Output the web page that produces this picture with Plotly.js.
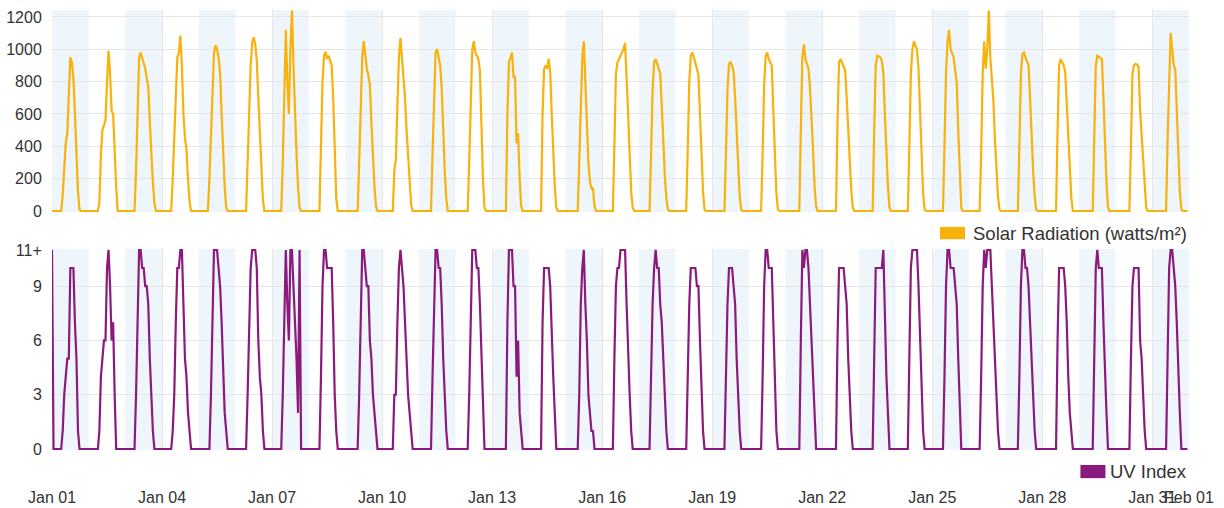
<!DOCTYPE html>
<html>
<head>
<meta charset="utf-8">
<script src="https://cdn.plot.ly/plotly-3.0.1.min.js"></script>
<style>
  html, body { margin: 0; padding: 0; background: #ffffff; }
  #chart { width: 1224px; height: 508px; }
</style>
</head>
<body>
<div id="chart"></div>
<script>
// ---- Data (hourly readings, one line per day, hours 00..23) ----
const startDate = '2024-01-01T00:00:00Z';

const solarRadiation = [
  0,0,0,0,0,0,0,100,280,420,480,700,950,920,820,600,380,120,10,0,0,0,0,0,        // Jan 01
  0,0,0,0,0,0,0,50,350,500,530,560,800,990,850,620,600,350,150,0,0,0,0,0,         // Jan 02
  0,0,0,0,0,0,0,250,700,950,980,950,920,880,820,770,550,350,180,50,0,0,0,0,       // Jan 03
  0,0,0,0,0,0,0,200,450,750,950,980,1085,900,600,450,380,200,60,0,0,0,0,0,        // Jan 04
  0,0,0,0,0,0,0,200,500,800,980,1025,1000,950,850,600,350,150,20,0,0,0,0,0,       // Jan 05
  0,0,0,0,0,0,0,0,300,650,900,1040,1075,1030,930,700,450,220,70,0,0,0,0,0,        // Jan 06
  0,0,0,0,0,0,0,300,700,1120,800,600,1000,1240,900,600,350,150,20,0,0,0,0,0,      // Jan 07
  0,0,0,0,0,0,0,0,400,800,960,985,940,960,930,900,700,350,80,0,0,0,0,0,           // Jan 08
  0,0,0,0,0,0,0,0,0,300,700,950,1050,950,880,840,780,550,330,150,30,0,0,0,        // Jan 09
  0,0,0,0,0,0,0,0,250,320,650,950,1070,950,880,700,500,320,150,40,0,0,0,0,        // Jan 10
  0,0,0,0,0,0,0,0,0,350,750,980,1000,940,900,760,480,250,80,0,0,0,0,0,            // Jan 11
  0,0,0,0,0,0,0,0,0,300,700,1000,1050,980,960,940,870,500,200,20,0,0,0,0,         // Jan 12
  0,0,0,0,0,0,0,0,0,0,600,920,950,980,830,830,420,480,200,30,0,0,0,0,             // Jan 13
  0,0,0,0,0,0,0,0,0,600,880,900,880,940,860,600,350,150,20,0,0,0,0,0,             // Jan 14
  0,0,0,0,0,0,0,0,0,300,700,950,1050,800,600,300,180,140,140,30,0,0,0,0,          // Jan 15
  0,0,0,0,0,0,0,0,400,850,920,940,960,980,1000,1040,850,600,350,120,20,0,0,0,     // Jan 16
  0,0,0,0,0,0,0,0,350,750,920,940,910,880,850,650,420,220,80,10,0,0,0,0,          // Jan 17
  0,0,0,0,0,0,0,0,380,800,960,980,950,920,880,840,600,330,120,10,0,0,0,0,         // Jan 18
  0,0,0,0,0,0,0,0,0,350,750,910,920,900,860,700,480,260,90,10,0,0,0,0,            // Jan 19
  0,0,0,0,0,0,0,0,0,350,780,960,980,940,920,900,620,330,110,10,0,0,0,0,           // Jan 20
  0,0,0,0,0,0,0,0,0,0,500,950,1030,940,910,880,760,600,380,150,30,0,0,0,          // Jan 21
  0,0,0,0,0,0,0,0,0,0,550,920,940,920,900,870,700,500,300,130,20,0,0,0,           // Jan 22
  0,0,0,0,0,0,0,0,0,0,500,900,960,955,950,930,850,600,350,150,20,0,0,0,           // Jan 23
  0,0,0,0,0,0,0,0,0,400,850,1000,1050,1020,1000,880,600,330,110,10,0,0,0,0,       // Jan 24
  0,0,0,0,0,0,0,0,400,850,1050,1120,1000,970,950,870,800,500,200,20,0,0,0,0,      // Jan 25
  0,0,0,0,0,0,0,0,350,850,1050,880,1000,1240,950,800,680,450,250,90,10,0,0,0,     // Jan 26
  0,0,0,0,0,0,0,0,0,400,850,970,980,950,920,900,700,450,250,90,10,0,0,0,          // Jan 27
  0,0,0,0,0,0,0,0,0,0,500,900,940,920,900,860,650,420,220,80,0,0,0,0,             // Jan 28
  0,0,0,0,0,0,0,0,0,0,450,900,960,955,950,940,700,420,180,20,0,0,0,0,             // Jan 29
  0,0,0,0,0,0,0,0,0,0,400,850,900,910,905,890,620,450,280,120,20,0,0,0,           // Jan 30
  0,0,0,0,0,0,0,0,0,0,450,850,1100,1000,900,880,650,350,120,10,0,0,0,0            // Jan 31
];

const uvIndex = [
  11,0,0,0,0,0,0,1,3,4,5,5,10,10,10,7,5,1,0,0,0,0,0,0,      // Jan 01
  0,0,0,0,0,0,0,1,4,5,6,6,10,11,9,6,7,3,0,0,0,0,0,0,        // Jan 02
  0,0,0,0,0,0,0,3,8,11,11,10,10,9,9,8,5,3,1,0,0,0,0,0,      // Jan 03
  0,0,0,0,0,0,0,1,3,7,10,10,11,11,8,5,4,2,1,0,0,0,0,0,      // Jan 04
  0,0,0,0,0,0,0,0,3,8,11,11,11,10,9,7,4,2,1,0,0,0,0,0,      // Jan 05
  0,0,0,0,0,0,0,0,3,7,10,11,11,11,10,6,4,3,1,0,0,0,0,0,     // Jan 06
  0,0,0,0,0,0,0,3,7,11,8,6,11,11,9,7,5,2,11,0,0,0,0,0,      // Jan 07
  0,0,0,0,0,0,0,0,4,9,11,11,10,10,10,10,7,3,1,0,0,0,0,0,    // Jan 08
  0,0,0,0,0,0,0,0,0,3,8,11,11,10,9,9,6,5,3,2,1,0,0,0,       // Jan 09
  0,0,0,0,0,0,0,0,3,3,7,10,11,10,9,7,5,3,2,1,0,0,0,0,       // Jan 10
  0,0,0,0,0,0,0,0,0,4,8,11,11,10,10,8,5,3,1,0,0,0,0,0,      // Jan 11
  0,0,0,0,0,0,0,0,0,3,8,11,11,11,10,10,8,5,2,0,0,0,0,0,     // Jan 12
  0,0,0,0,0,0,0,0,0,0,7,11,11,11,9,9,4,6,2,1,0,0,0,0,       // Jan 13
  0,0,0,0,0,0,0,0,0,7,10,10,10,10,9,6,4,2,0,0,0,0,0,0,      // Jan 14
  0,0,0,0,0,0,0,0,0,3,8,10,11,8,6,3,2,1,1,0,0,0,0,0,        // Jan 15
  0,0,0,0,0,0,0,0,5,9,10,10,11,11,11,11,8,5,3,1,0,0,0,0,    // Jan 16
  0,0,0,0,0,0,0,0,4,8,10,11,10,10,8,7,5,3,1,0,0,0,0,0,      // Jan 17
  0,0,0,0,0,0,0,0,4,8,10,10,10,10,9,9,6,3,1,0,0,0,0,0,      // Jan 18
  0,0,0,0,0,0,0,0,0,4,8,10,10,10,9,8,5,3,1,0,0,0,0,0,       // Jan 19
  0,0,0,0,0,0,0,0,0,4,9,11,11,10,10,10,7,4,1,0,0,0,0,0,     // Jan 20
  0,0,0,0,0,0,0,0,0,0,6,11,10,11,11,10,8,6,4,2,0,0,0,0,     // Jan 21
  0,0,0,0,0,0,0,0,0,0,6,10,10,10,10,9,8,5,3,1,0,0,0,0,      // Jan 22
  0,0,0,0,0,0,0,0,0,0,5,10,10,10,10,10,11,7,4,2,0,0,0,0,    // Jan 23
  0,0,0,0,0,0,0,0,0,5,10,11,11,11,11,9,6,3,1,0,0,0,0,0,     // Jan 24
  0,0,0,0,0,0,0,0,4,9,11,11,10,10,10,9,8,5,2,0,0,0,0,0,     // Jan 25
  0,0,0,0,0,0,0,0,4,9,11,10,11,11,11,9,7,5,3,1,0,0,0,0,     // Jan 26
  0,0,0,0,0,0,0,0,0,4,9,11,11,10,10,9,7,5,3,1,0,0,0,0,      // Jan 27
  0,0,0,0,0,0,0,0,0,0,6,10,10,10,10,9,7,4,2,1,0,0,0,0,      // Jan 28
  0,0,0,0,0,0,0,0,0,0,5,10,11,10,10,10,7,4,2,0,0,0,0,0,     // Jan 29
  0,0,0,0,0,0,0,0,0,0,5,9,10,10,10,10,6,5,3,1,0,0,0,0,      // Jan 30
  0,0,0,0,0,0,0,0,0,0,5,10,11,11,10,9,7,4,2,0,0,0,0,0       // Jan 31
];

const xTickDates = ['2024-01-01','2024-01-04','2024-01-07','2024-01-10','2024-01-13','2024-01-16',
                    '2024-01-19','2024-01-22','2024-01-25','2024-01-28','2024-01-31','2024-02-01'];
const xTickLabels = ['Jan 01','Jan 04','Jan 07','Jan 10','Jan 13','Jan 16',
                     'Jan 19','Jan 22','Jan 25','Jan 28','Jan 31','Feb 01'];
const solarTicks = [0, 200, 400, 600, 800, 1000, 1200];
const uvTicks = [0, 3, 6, 9, 11];
const uvTickLabels = ['0', '3', '6', '9', '11+'];
const shadedDays = [1,3,5,7,9,11,13,15,17,19,21,23,25,27,29,31];

const solarName = 'Solar Radiation (watts/m²)';
const uvName = 'UV Index';
const solarColor = '#f9b10b';
const uvColor = '#8a1a7d';

// ---- Build time axis ----
const t0 = Date.parse(startDate);
function isoHour(ms) {
  const d = new Date(ms);
  const p = n => String(n).padStart(2, '0');
  return d.getUTCFullYear() + '-' + p(d.getUTCMonth() + 1) + '-' + p(d.getUTCDate()) +
         ' ' + p(d.getUTCHours()) + ':00';
}
const times = solarRadiation.map((_, i) => isoHour(t0 + i * 3600000));

const FONT = 'Liberation Sans, Arial, Helvetica, sans-serif';
const TXT = '#333333';
const GRID = '#e6e6e6';
const BAND = '#eef5fb';

const traces = [
  { x: times, y: solarRadiation, type: 'scatter', mode: 'lines', name: solarName,
    xaxis: 'x', yaxis: 'y', line: { color: solarColor, width: 2.2 }, hoverinfo: 'x+y' },
  { x: times, y: uvIndex, type: 'scatter', mode: 'lines', name: uvName,
    xaxis: 'x2', yaxis: 'y2', line: { color: uvColor, width: 2.2 }, hoverinfo: 'x+y' }
];

// alternating day bands in both panels
const shapes = [];
shadedDays.forEach(d => {
  const a = isoHour(t0 + (d - 1) * 86400000);
  const b = isoHour(t0 + d * 86400000);
  shapes.push({ type: 'rect', layer: 'below', xref: 'x', yref: 'y domain',
                x0: a, x1: b, y0: 0, y1: 1, fillcolor: BAND, line: { width: 0 } });
  shapes.push({ type: 'rect', layer: 'below', xref: 'x2', yref: 'y2 domain',
                x0: a, x1: b, y0: 0, y1: 1, fillcolor: BAND, line: { width: 0 } });
});
// legend swatches
shapes.push({ type: 'rect', xref: 'paper', yref: 'paper', x0: 0.781, x1: 0.803, y0: 0.479, y1: 0.507,
              fillcolor: solarColor, line: { width: 0 } });
shapes.push({ type: 'rect', xref: 'paper', yref: 'paper', x0: 0.9045, x1: 0.9265, y0: -0.064, y1: -0.034,
              fillcolor: uvColor, line: { width: 0 } });

const annotations = [
  { xref: 'paper', yref: 'paper', x: 1.0, y: 0.493, xanchor: 'right', yanchor: 'middle',
    text: solarName, showarrow: false, font: { family: FONT, size: 18.5, color: TXT } },
  { xref: 'paper', yref: 'paper', x: 1.0, y: -0.049, xanchor: 'right', yanchor: 'middle',
    text: uvName, showarrow: false, font: { family: FONT, size: 18.5, color: TXT } }
];

const xRange = ['2024-01-01 00:00', '2024-02-01 00:00'];
const xCommon = {
  type: 'date', range: xRange, tickmode: 'array', tickvals: xTickDates, ticktext: xTickLabels,
  showgrid: true, gridcolor: GRID, gridwidth: 1, zeroline: false, tickangle: 0,
  showline: false, fixedrange: true
};

const layout = {
  width: 1224, height: 508,
  margin: { l: 52, r: 35, t: 10, b: 58 },
  paper_bgcolor: '#ffffff', plot_bgcolor: '#ffffff',
  font: { family: FONT, size: 16, color: TXT },
  showlegend: false,
  xaxis: Object.assign({}, xCommon, { anchor: 'y', showticklabels: false, ticks: '' }),
  xaxis2: Object.assign({}, xCommon, { anchor: 'y2', showticklabels: true, ticks: 'outside',
    ticklen: 33, tickcolor: 'rgba(0,0,0,0)', tickfont: { family: FONT, size: 16, color: TXT } }),
  yaxis: { domain: [0.5409, 1], range: [-6, 1243], tickmode: 'array', tickvals: solarTicks,
    showgrid: true, gridcolor: GRID, zeroline: false, ticks: 'outside', ticklen: 6,
    tickcolor: 'rgba(0,0,0,0)', tickfont: { family: FONT, size: 16, color: TXT }, fixedrange: true },
  yaxis2: { domain: [0, 0.4568], range: [-0.05, 11.05], tickmode: 'array', tickvals: uvTicks,
    ticktext: uvTickLabels, showgrid: true, gridcolor: GRID, zeroline: false, ticks: 'outside',
    ticklen: 6, tickcolor: 'rgba(0,0,0,0)', tickfont: { family: FONT, size: 16, color: TXT },
    fixedrange: true },
  shapes: shapes,
  annotations: annotations
};

Plotly.newPlot('chart', traces, layout, { displayModeBar: false, staticPlot: true });
</script>
</body>
</html>
